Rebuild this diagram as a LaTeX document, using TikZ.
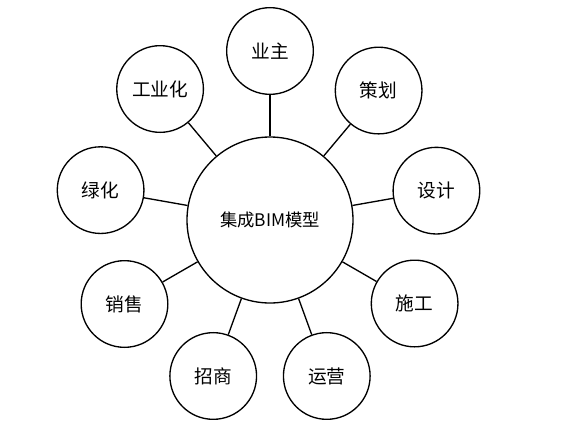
\documentclass[tikz,border=0pt]{standalone}
\usepackage{fontspec}
\setmainfont{Noto Sans CJK SC}
\usepackage{tikz}

\begin{document}
\begin{tikzpicture}[x=0.75pt, y=0.75pt, line width=1pt,
  hub/.style={draw, circle, minimum size=124.5pt, inner sep=0pt, font=\fontsize{13}{15}\selectfont},
  leaf/.style={draw, circle, minimum size=65pt, inner sep=0pt, font=\fontsize{14}{16}\selectfont}]
  \useasboundingbox (-270,-209) rectangle (311,220);
  \node (B) [hub] {集成BIM模型};
  \node (Y) [leaf] at (90:169) {业主};
  \node (P) [leaf] at (50:169) {策划};
  \node (D) [leaf] at (10:169) {设计};
  \node (C) [leaf] at (-30:167) {施工};
  \node (R) [leaf] at (-70:166) {运营};
  \node (I) [leaf] at (-110:166) {招商};
  \node (S) [leaf] at (-150:168) {销售};
  \node (G) [leaf] at (170:172) {绿化};
  \node (F) [leaf] at (130:171) {工业化};
  \draw (B) -- (Y);
  \draw (B) -- (P);
  \draw (B) -- (D);
  \draw (B) -- (C);
  \draw (B) -- (R);
  \draw (B) -- (I);
  \draw (B) -- (S);
  \draw (B) -- (G);
  \draw (B) -- (F);
\end{tikzpicture}
\end{document}
